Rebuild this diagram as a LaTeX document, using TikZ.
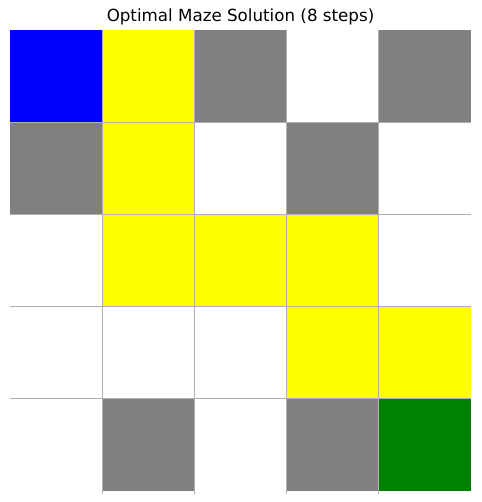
\documentclass[tikz,border=0pt]{standalone}
\usepackage{fontspec}
\setmainfont{DejaVu Sans}
\definecolor{mblue}{HTML}{0000FF}
\definecolor{myellow}{HTML}{FFFF00}
\definecolor{mgray}{HTML}{808080}
\definecolor{mgreen}{HTML}{008000}
\definecolor{gridc}{HTML}{B0B0B0}
\begin{document}
\begin{tikzpicture}[x=1pt,y=-1pt,
  cell/.style={fill=#1, draw=none},
  gline/.style={draw=gridc, line width=1.1pt}]
\useasboundingbox (0,0) rectangle (481,502);
\def\cs{92.2}
\foreach \r/\c/\col in {
 0/0/mblue,0/1/myellow,0/2/mgray,0/3/white,0/4/mgray,
 1/0/mgray,1/1/myellow,1/2/white,1/3/mgray,1/4/white,
 2/0/white,2/1/myellow,2/2/myellow,2/3/myellow,2/4/white,
 3/0/white,3/1/white,3/2/white,3/3/myellow,3/4/myellow,
 4/0/white,4/1/mgray,4/2/white,4/3/mgray,4/4/mgreen}{
  \fill[\col] ({10+\c*\cs},{30+\r*\cs}) rectangle ({10+(\c+1)*\cs},{30+(\r+1)*\cs});
}
\foreach \i in {1,2,3,4}{
  \draw[gline] ({10+\i*\cs},30) -- ({10+\i*\cs},494);
  \draw[gline] (10,{30+\i*\cs}) -- (471,{30+\i*\cs});
}
\node[font=\fontsize{16.7}{20}\selectfont, anchor=base] (title) at (240.5,22) {Optimal Maze Solution (8 steps)};
\end{tikzpicture}
\end{document}
